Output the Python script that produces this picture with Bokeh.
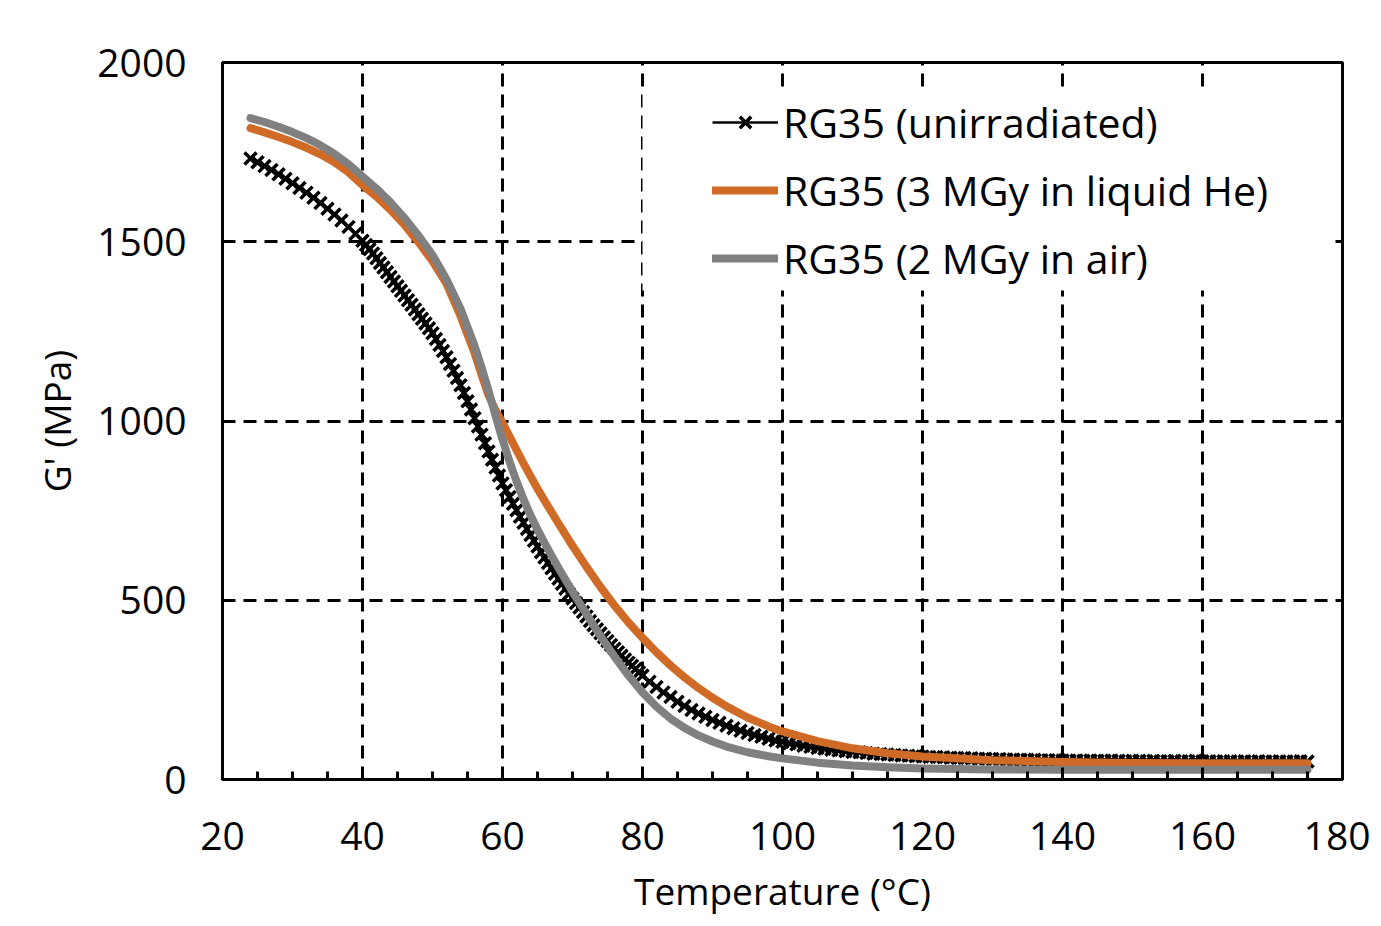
from bokeh.plotting import figure
from bokeh.models import SingleIntervalTicker, Legend, LegendItem, BoxAnnotation, Range1d
from bokeh.embed import file_html
from bokeh.resources import INLINE

# ---------------- data ----------------
temp_unirr = [24, 25, 26, 27, 28, 29, 30, 31, 32, 33, 34, 35, 36, 37, 38, 39,
              40, 40.5, 41, 41.5, 42, 42.5, 43, 43.5, 44, 44.5, 45, 45.5, 46, 46.5, 47, 47.5,
              48, 48.5, 49, 49.5, 50, 50.5, 51, 51.5, 52, 52.5, 53, 53.5, 54, 54.5, 55, 55.5,
              56, 56.5, 57, 57.5, 58, 58.5, 59, 59.5, 60, 60.5, 61, 61.5, 62, 62.5, 63, 63.5,
              64, 64.5, 65, 65.5, 66, 66.5, 67, 67.5, 68, 68.5, 69, 69.5, 70, 70.5, 71, 71.5,
              72, 72.5, 73, 73.5, 74, 74.5, 75, 75.5, 76, 76.5, 77, 77.5, 78, 78.5, 79, 79.5,
              80, 81, 82, 83, 84, 85, 86, 87, 88, 89, 90,
              91, 92, 93, 94, 95, 96, 97, 98, 99, 100,
              101, 102, 103, 104, 105, 106, 107, 108, 109, 110,
              111, 112, 113, 114, 115, 116, 117, 118, 119, 120,
              121, 122, 123, 124, 125, 126, 127, 128, 129, 130,
              131, 132, 133, 134, 135, 136, 137, 138, 139, 140,
              141, 142, 143, 144, 145, 146, 147, 148, 149, 150,
              151, 152, 153, 154, 155, 156, 157, 158, 159, 160,
              161, 162, 163, 164, 165, 166, 167, 168, 169, 170,
              171, 172, 173, 174, 175]
g_unirr = [1732, 1722, 1711, 1700, 1688, 1676, 1663, 1650, 1637, 1623, 1608, 1592, 1576, 1559, 1541, 1522,
           1503, 1491, 1479, 1467, 1454, 1441, 1428, 1415, 1402, 1389, 1376, 1363, 1350, 1337, 1324, 1311,
           1298, 1285, 1272, 1259, 1245, 1229, 1212, 1195, 1178, 1159, 1140, 1120, 1100, 1078, 1055, 1032,
           1008, 985, 962, 938, 915, 892, 870, 848, 826, 807, 788, 769, 751, 733, 716, 699,
           682, 666, 650, 634, 619, 604, 589, 574, 560, 546, 532, 518, 505, 492, 480, 467,
           455, 442, 430, 419, 408, 397, 386, 375, 365, 355, 345, 335, 326, 317, 308, 299,
           290, 273, 258, 243, 230, 217, 205, 194, 184, 175, 166,
           158, 150, 143, 136, 130, 124, 119, 114, 109, 105,
           101, 98, 94, 91, 88, 86, 83, 81, 79, 77,
           76, 74, 72, 71, 70, 68, 67, 66, 65, 64,
           63, 63, 62, 61, 60, 60, 59, 58, 58, 57,
           57, 56, 56, 55, 55, 55, 54, 54, 54, 53,
           53, 53, 52, 53, 52, 52, 53, 52, 51, 52,
           52, 51, 52, 51, 51, 52, 51, 51, 52, 51,
           51, 50, 51, 51, 50, 51, 50, 51, 50, 50,
           51, 50, 50, 51, 50]

temp_he = [24, 26, 28, 30, 32, 34, 36, 38, 40, 42, 44, 46, 48, 50, 52, 54, 56, 57, 58, 59,
           60, 61, 62, 63, 64, 65, 66, 68, 70, 72, 74, 76, 78, 80, 82, 84, 86, 88, 90, 92,
           95, 98, 100, 105, 110, 115, 120, 130, 140, 150, 160, 175]
g_he = [1817, 1805, 1792, 1778, 1762, 1744, 1722, 1694, 1658, 1626, 1589, 1547, 1499, 1446, 1383, 1293, 1190, 1130, 1072, 1030,
        995, 957, 919, 882, 846, 811, 778, 714, 652, 593, 537, 485, 438, 395, 355, 318, 285, 255, 228, 204,
        173, 148, 134, 107, 87, 73, 64, 54, 49, 46, 45, 45]

temp_air = [24, 26, 28, 30, 32, 34, 36, 38, 40, 42, 44, 46, 48, 50, 52, 54, 56, 57, 58, 59,
            60, 61, 62, 63, 64, 65, 66, 68, 70, 72, 74, 76, 78, 80, 82, 84, 86, 88, 90, 92,
            95, 98, 100, 105, 110, 115, 120, 130, 140, 150, 160, 175]
g_air = [1845, 1834, 1821, 1806, 1789, 1769, 1745, 1716, 1682, 1648, 1610, 1566, 1517, 1463, 1395, 1313, 1210, 1150, 1085, 1015,
         948, 887, 832, 782, 737, 697, 660, 590, 524, 461, 400, 343, 290, 243, 203, 170, 144, 123, 106, 92,
         76, 65, 59, 47, 39, 34, 31, 28, 27, 27, 27, 27]

labels = ["RG35 (unirradiated)", "RG35 (3 MGy in liquid He)", "RG35 (2 MGy in air)"]
x_ticks_interval = 20
y_ticks_interval = 500

FONT = "Open Sans"
ORANGE = "#D06A27"
GRAY = "#808080"

# ---------------- figure ----------------
p = figure(frame_width=1120, frame_height=717,
           x_range=Range1d(20, 180), y_range=Range1d(0, 2000),
           output_backend="svg", toolbar_location=None,
           min_border_left=222, min_border_top=62, min_border_right=28, min_border_bottom=138,
           background_fill_color="white", border_fill_color="white")

p.outline_line_color = "black"
p.outline_line_width = 3
p.outline_line_alpha = 1.0

p.xaxis.ticker = SingleIntervalTicker(interval=x_ticks_interval, num_minor_ticks=4)
p.yaxis.ticker = SingleIntervalTicker(interval=y_ticks_interval, num_minor_ticks=0)

for ax in (p.xaxis[0], p.yaxis[0]):
    ax.axis_line_color = "black"
    ax.axis_line_width = 3
    ax.major_tick_line_color = "black"
    ax.major_tick_line_width = 3
    ax.major_tick_in = 12
    ax.major_tick_out = 0
    ax.minor_tick_line_color = "black"
    ax.minor_tick_line_width = 3
    ax.minor_tick_in = 8
    ax.minor_tick_out = 0
    ax.major_label_text_font = FONT
    ax.major_label_text_font_size = "39px"
    ax.major_label_text_color = "black"
    ax.axis_label_text_font = FONT
    ax.axis_label_text_font_style = "normal"
    ax.axis_label_text_color = "black"

p.yaxis.minor_tick_line_color = None
p.xaxis.axis_label = "Temperature (°C)"
p.yaxis.axis_label = "G' (MPa)"
p.xaxis.axis_label_text_font_size = "37px"
p.yaxis.axis_label_text_font_size = "37px"
p.xaxis.major_label_standoff = 42
p.yaxis.major_label_standoff = 36
p.xaxis.axis_label_standoff = 12
p.yaxis.axis_label_standoff = 12

for g in (p.xgrid[0], p.ygrid[0]):
    g.grid_line_color = "black"
    g.grid_line_width = 3
    g.grid_line_dash = "13 8"

# white area behind the legend (hides gridlines like the original)
p.add_layout(BoxAnnotation(left=80.0, right=178.6, bottom=1364, top=1916,
                           fill_color="white", fill_alpha=1.0, line_color=None, level="underlay"))

# ---------------- series ----------------
r_line_k = p.line(temp_unirr, g_unirr, line_color="black", line_width=2.5)
r_mark_k = p.scatter(temp_unirr, g_unirr, marker="x", size=17, line_color="black", line_width=3.5)
r_he = p.line(temp_he, g_he, line_color=ORANGE, line_width=8, line_cap="round", line_join="round")
r_air = p.line(temp_air, g_air, line_color=GRAY, line_width=8, line_cap="round", line_join="round")

legend = Legend(items=[LegendItem(label=labels[0], renderers=[r_line_k, r_mark_k]),
                       LegendItem(label=labels[1], renderers=[r_he]),
                       LegendItem(label=labels[2], renderers=[r_air])],
                location=(490, 493))
legend.label_text_font = FONT
legend.label_text_font_size = "41px"
legend.label_text_color = "black"
legend.glyph_width = 66
legend.glyph_height = 40
legend.label_height = 40
legend.label_standoff = 5
legend.spacing = 12
legend.padding = 14
legend.margin = 0
legend.border_line_color = None
legend.background_fill_color = "white"
legend.background_fill_alpha = 1.0
p.add_layout(legend, "center")

open("out.html", "w").write(file_html(p, INLINE))
